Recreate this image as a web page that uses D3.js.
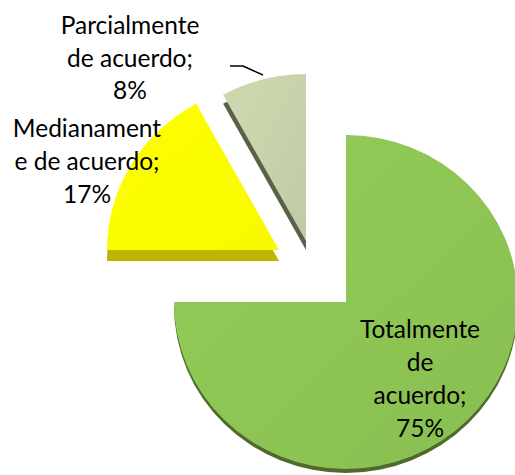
<!DOCTYPE html>
<html>
<head>
<meta charset="utf-8">
<script src="https://cdn.jsdelivr.net/npm/d3@7"></script>
<style>
  html, body { margin: 0; padding: 0; background: #fff; }
  text { font-family: "Lato", "Open Sans", sans-serif; fill: #000; }
</style>
</head>
<body>
<div class="plot"></div>
<script>
// chart data
const categories = ["Totalmente de acuerdo", "Medianamente de acuerdo", "Parcialmente de acuerdo"];
const values = [75, 17, 8];
const labelLines = [
    ["Totalmente", "de", "acuerdo;", "75%"],
    ["Medianament", "e de acuerdo;", "17%"],
    ["Parcialmente", "de acuerdo;", "8%"]
];
const topColors = ["#8dc453", "#ffff00", "#c4d1aa"];
const sideColors = ["#4f6b2b", "#bdb500", "#5b6148"];

const width = 515, height = 475;
const rx = 172, ry = 167;

// where each (exploded) slice sits, and how thick its side looks
const centers = [[346, 302], [279, 250], [306, 241]];
const depths = [4, 11, 9];
// label anchors: centre x, first baseline, line height
const labelPos = [[420, 338, 33], [87, 137, 33], [130, 34, 32.5]];

const svg = d3.select(".plot")
    .append("svg")
    .attr("width", width)
    .attr("height", height);

const defs = svg.append("defs");
topColors.forEach((c, i) => {
    const g = defs.append("linearGradient")
        .attr("id", "grad" + i)
        .attr("x1", "0%").attr("y1", "0%")
        .attr("x2", "100%").attr("y2", "100%");
    g.append("stop").attr("offset", "0%").attr("stop-color", d3.color(c).brighter(0.12));
    g.append("stop").attr("offset", "100%").attr("stop-color", d3.color(c).darker(0.08));
});

const pie = d3.pie().sort(null).startAngle(0).endAngle(2 * Math.PI);
const arcs = pie(values);

const arc = d3.arc().innerRadius(0).outerRadius(rx);

// side faces first
arcs.forEach((d, i) => {
    const [cx, cy] = centers[i];
    svg.append("path")
        .attr("d", arc(d))
        .attr("fill", sideColors[i])
        .attr("transform", `translate(${cx}, ${cy + depths[i]}) scale(1, ${ry / rx})`);
});

// top faces
arcs.forEach((d, i) => {
    const [cx, cy] = centers[i];
    svg.append("path")
        .attr("class", "slice")
        .attr("d", arc(d))
        .attr("fill", `url(#grad${i})`)
        .attr("transform", `translate(${cx}, ${cy}) scale(1, ${ry / rx})`);
});

// leader line for the small slice
svg.append("path")
    .attr("d", d3.line()([[230, 66], [243, 66], [263, 75]]))
    .attr("fill", "none")
    .attr("stroke", "#000")
    .attr("stroke-width", 1.5);

// labels
labelLines.forEach((lines, i) => {
    const [x, y0, lh] = labelPos[i];
    const t = svg.append("text")
        .attr("text-anchor", "middle")
        .style("font-size", "24.5px");
    lines.forEach((s, j) => {
        t.append("tspan")
            .attr("x", x)
            .attr("y", y0 + j * lh)
            .text(s);
    });
});
</script>
</body>
</html>
